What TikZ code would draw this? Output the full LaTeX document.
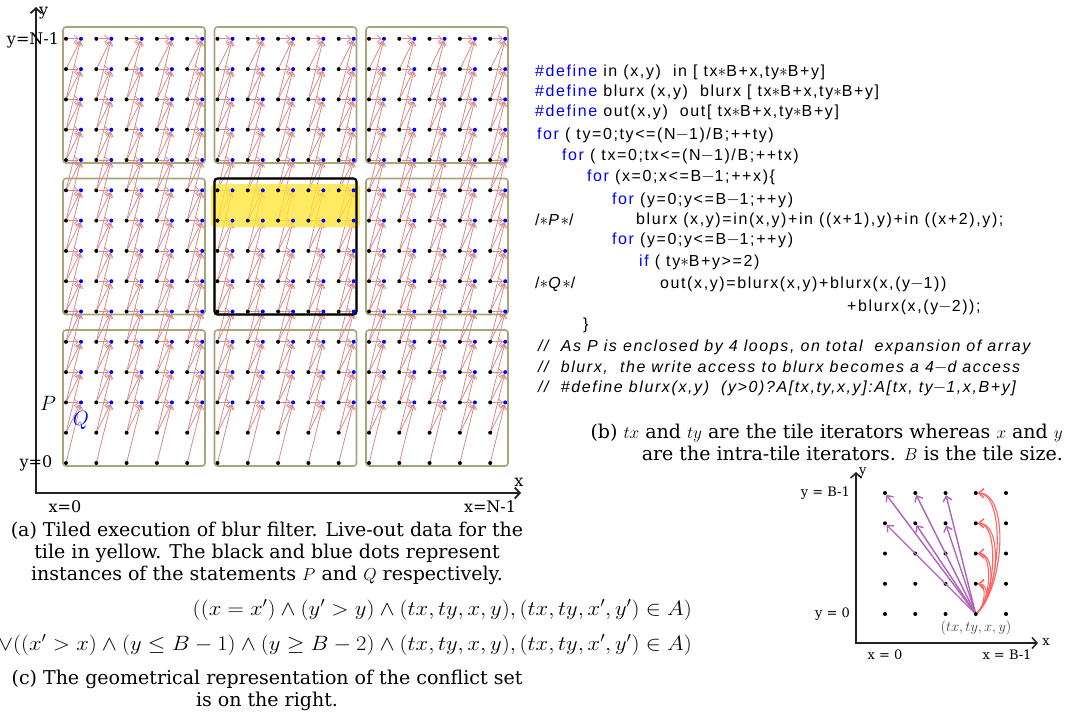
\documentclass[tikz,border=0pt]{standalone}
\usepackage{fontspec}
\usepackage{graphicx}
\setmainfont{DejaVu Serif}
\newfontfamily\codefont[LetterSpace=10]{Liberation Sans}
\usetikzlibrary{arrows.meta, backgrounds}
\definecolor{bfTile}{HTML}{A8A47C}
\definecolor{bfDep}{HTML}{D68A8A}
\definecolor{bfYellow}{HTML}{FFE63C}
\definecolor{bfKey}{HTML}{0000FF}
\definecolor{bfViolet}{HTML}{B065B8}
\definecolor{bfSalmon}{HTML}{FF6464}
\definecolor{bfAxis}{HTML}{222222}
\newcommand{\kw}[1]{{\color{bfKey}#1}}
\tikzset{
  pdot/.style={circle, fill=black, inner sep=0pt, minimum size=4pt},
  qdot/.style={circle, fill=blue, inner sep=0pt, minimum size=4pt},
  sdot/.style={circle, fill=black, inner sep=0pt, minimum size=4pt},
  tilebox/.style={draw=bfTile, line width=1.6pt, rounded corners=3pt},
  livebox/.style={draw=black, line width=2.2pt, rounded corners=3pt},
  hilite/.style={fill=bfYellow, opacity=0.8, rounded corners=3pt},
  dep/.style={-{Straight Barb[length=4pt,width=7pt]}, line width=0.8pt, draw=bfDep},
  axis/.style={{Straight Barb[length=5pt,width=11pt]}-{Straight Barb[length=5pt,width=11pt]},
    line width=1.8pt, draw=bfAxis},
  conf/.style={-{Straight Barb[length=5pt,width=9pt]}, line width=1.4pt, draw=bfViolet},
  confr/.style={-{Straight Barb[length=5pt,width=9pt]}, line width=1.1pt, draw=bfSalmon},
  lbl/.style={font=\fontsize{16}{20}\selectfont, inner sep=0pt},
  slbl/.style={font=\fontsize{13}{16}\selectfont, inner sep=0pt},
  codeln/.style={anchor=west, font=\codefont\fontsize{16}{18}\selectfont, inner sep=0pt},
  cmt/.style={codeln, font=\codefont\itshape\fontsize{16}{18}\selectfont},
  captxt/.style={font=\fontsize{19}{22}\selectfont, align=center, inner sep=0pt},
  formula/.style={inner sep=0pt, anchor=east},
}

\begin{document}
\begin{tikzpicture}[x=1pt, y=-1pt]
  \useasboundingbox (0,0) rectangle (1067,721);

  % instances of P (black) and Q (blue)
  \foreach \i in {0,...,14}
    \foreach \j in {0,...,14}
      \node[pdot] (p-\i-\j) at ({66+30.3*\i},{463-30.3*\j}) {};
  \foreach \i in {0,...,14}
    \foreach \j in {2,...,14}
      \node[qdot] (q-\i-\j) at ({81+30.3*\i},{463-30.3*\j}) {};

  \begin{scope}[on background layer]
    \foreach \c in {0,1,2}
      \foreach \r in {0,1,2}
        \draw[tilebox] ({63+151.5*\c},{466-151.5*\r}) rectangle ({205+151.5*\c},{330-151.5*\r});
    \foreach \i in {0,...,14}
      \foreach \j in {0,...,14}
        \foreach \d in {0,1,2} {
          \pgfmathtruncatemacro{\k}{\j+\d}
          \ifnum\k>1 \ifnum\k<15
            \draw[dep] (p-\i-\j) -- (q-\i-\k);
          \fi\fi
        }
    \fill[hilite] (211,184) rectangle (360,227);
    \draw[livebox] (214.5,178.5) rectangle (356.5,314.5);
  \end{scope}

  \coordinate (org) at (36,493);
  \coordinate (ytip) at (36,7);
  \coordinate (xtip) at (521,493);
  \draw[axis] (ytip) -- (org) -- (xtip);
  \node[lbl, anchor=west] (ylab) at (39,13) {y};
  \node[lbl] (xlab) at (519,482) {x};
  \node[lbl] (yN) at (33,40) {y=N-1};
  \node[lbl] (y0) at (36,463) {y=0};
  \node[lbl] (x0) at (65,507) {x=0};
  \node[lbl] (xN) at (490,507) {x=N-1};
  \node[font=\fontsize{20}{20}\selectfont, inner sep=0pt] (lblP) at (48,403) {$P$};
  \node[font=\fontsize{20}{20}\selectfont, inner sep=0pt, text=blue] (lblQ) at (81,420) {$Q$};

  % listing
  \node[codeln] (c1) at (535,72) {\kw{\#define} in (x,y)\ \ in [ tx$\ast$B+x,ty$\ast$B+y]};
  \node[codeln] (c2) at (535,92) {\kw{\#define} blurx (x,y)\ \ blurx [ tx$\ast$B+x,ty$\ast$B+y]};
  \node[codeln] (c3) at (535,112) {\kw{\#define} out(x,y)\ \ out[ tx$\ast$B+x,ty$\ast$B+y]};
  \node[codeln] (c4) at (537,135) {\kw{for} ( ty=0;ty<=(N$-$1)/B;++ty)};
  \node[codeln] (c5) at (562,156) {\kw{for} ( tx=0;tx<=(N$-$1)/B;++tx)};
  \node[codeln] (c6) at (587,177) {\kw{for} (x=0;x<=B$-$1;++x)\{};
  \node[codeln] (c7) at (612,200) {\kw{for} (y=0;y<=B$-$1;++y)};
  \node[codeln] (c8a) at (535,220) {/$\ast$\textit{P}$\ast$/};
  \node[codeln] (c8) at (636,220) {blurx (x,y)=in(x,y)+in ((x+1),y)+in ((x+2),y);};
  \node[codeln] (c9) at (612,240) {\kw{for} (y=0;y<=B$-$1;++y)};
  \node[codeln] (c10) at (639,262) {\kw{if} ( ty$\ast$B+y>=2)};
  \node[codeln] (c11a) at (535,284) {/$\ast$\textit{Q}$\ast$/};
  \node[codeln] (c11) at (660,284) {out(x,y)=blurx(x,y)+blurx(x,(y$-$1))};
  \node[codeln] (c12) at (847,307) {+blurx(x,(y$-$2));};
  \node[codeln] (c13) at (583,325) {\}};
  \node[cmt] (c14) at (538,347) {//\ \ As P is\ enclosed by 4 loops, on total\ \ expansion of array};
  \node[cmt] (c15) at (538,368) {//\ \ blurx,\ \ the write access to blurx becomes a 4$-$d access};
  \node[cmt] (c16) at (538,388) {//\ \ \#define blurx(x,y)\ \ (y>0)?A[tx,ty,x,y]:A[tx, ty$-$1,x,B+y]};

  \node[captxt, align=right, anchor=east] (capb) at (1063,442)
    {(b) $tx$ and $ty$ are the tile iterators whereas $x$ and $y$\\are the intra-tile iterators. $B$ is the tile size.};

  % conflict set
  \foreach \i in {0,...,4}
    \foreach \j in {0,...,4}
      \node[sdot] (s-\i-\j) at ({885+30.25*\i},{614-30.25*\j}) {};
  \coordinate (sorg) at (856,643);
  \coordinate (sytip) at (856,472);
  \coordinate (sxtip) at (1038,643);
  \draw[axis, line width=1.5pt] (sytip) -- (sorg) -- (sxtip);
  \node[slbl, anchor=west] (sylab) at (859,473) {y};
  \node[slbl] (sxlab) at (1046,642) {x};
  \node[slbl, anchor=east] (syB) at (850,493) {y = B-1};
  \node[slbl, anchor=east] (sy0) at (850,614) {y = 0};
  \node[slbl] (sx0) at (885,655) {x = 0};
  \node[slbl] (sxB) at (1007,655) {x = B-1};
  \node[font=\fontsize{15}{16}\selectfont, inner sep=0pt, text=black!75] (sit) at (976,628) {$(tx,ty,x,y)$};
  \foreach \i in {0,1,2}
    \foreach \j in {3,4}
      \draw[conf] (s-3-0) -- (s-\i-\j);
  \draw[confr] (s-3-0) .. controls (1005,585) and (1009,493) .. (s-3-4);
  \draw[confr] (s-3-0) .. controls (1002,588) and (1005,494) .. (s-3-4);
  \draw[confr] (s-3-0) .. controls (999,592) and (1003,523) .. (s-3-3);
  \draw[confr] (s-3-0) .. controls (996,594) and (999,524) .. (s-3-3);
  \draw[confr] (s-3-0) .. controls (994,598) and (996,553) .. (s-3-2);
  \draw[confr] (s-3-0) .. controls (991,600) and (993,554) .. (s-3-2);
  \draw[confr] (s-3-0) .. controls (988,604) and (990,584) .. (s-3-1);
  \draw[confr] (s-3-0) .. controls (985,606) and (987,585) .. (s-3-1);

  % captions
  \node[captxt] (capa) at (267,553)
    {(a) Tiled execution of blur filter. Live-out data for the\\tile in yellow. The black and blue dots represent\\instances of the statements $P$ and $Q$ respectively.};
  \node[formula] (f1) at (692,610)
    {\scalebox{1.09}[1]{\fontsize{21}{22}\selectfont$((x = x') \wedge (y' > y) \wedge (tx,ty,x,y),(tx,ty,x',y') \in A)$}};
  \node[formula] (f2) at (692,645)
    {\scalebox{1.09}[1]{\fontsize{21}{22}\selectfont$\vee((x' > x) \wedge (y \leq B-1) \wedge (y \geq B-2) \wedge (tx,ty,x,y),(tx,ty,x',y') \in A)$}};
  \node[captxt] (capc) at (267,690)
    {(c) The geometrical representation of the conflict set\\is on the right.};
\end{tikzpicture}
\end{document}
